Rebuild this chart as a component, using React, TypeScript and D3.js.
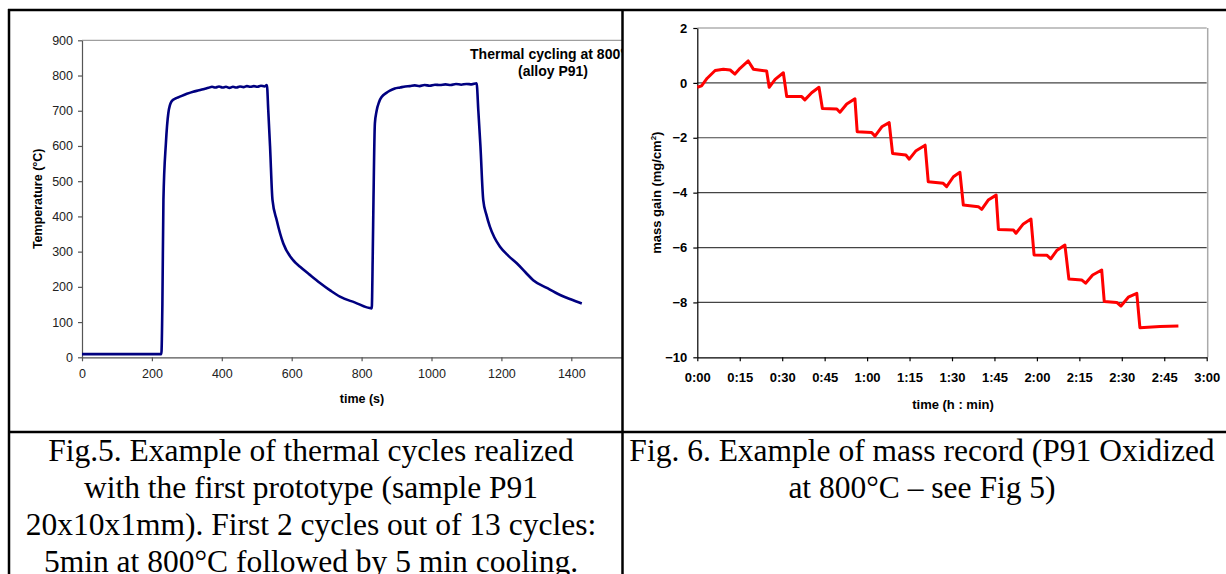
import { useEffect, useRef } from 'react';
import * as d3 from 'd3';

// Fig.5: temperature (°C) vs time (s), first 2 cycles
const cycleTime = [
  0, 100, 227, 230, 233, 240, 247, 256, 268, 280, 300, 318, 335, 350, 362, 372, 382, 392, 402, 412,
  422, 432, 442, 452, 462, 472, 482, 492, 502, 512, 522, 529, 533, 538, 545, 557, 576, 604, 624, 652,
  681, 710, 738, 780, 829, 832, 834, 838, 843, 850, 858, 870, 881, 895, 910, 925, 938, 952, 966, 980,
  995, 1010, 1024, 1040, 1055, 1070, 1085, 1100, 1115, 1129, 1134, 1140, 1148, 1157, 1167, 1180, 1196,
  1220, 1244, 1270, 1291, 1330, 1368, 1400, 1430,
];
const cycleTemp = [
  9, 9, 9, 150, 447, 607, 693, 726, 735, 740, 748, 754, 758, 762, 765, 768, 766, 769, 766, 768,
  765, 768, 766, 769, 767, 770, 768, 770, 768, 771, 769, 773, 700, 600, 447, 390, 323, 276, 257, 234,
  211, 190, 172, 156, 139, 300, 447, 664, 700, 725, 740, 750, 757, 763, 766, 769, 770, 772, 770, 773,
  771, 774, 773, 775, 773, 776, 774, 776, 775, 778, 700, 600, 447, 405, 371, 340, 314,
  288, 267, 240, 219, 197, 177, 164, 153,
];
const tempTicks = [0, 100, 200, 300, 400, 500, 600, 700, 800, 900];
const timeTicks = [0, 200, 400, 600, 800, 1000, 1200, 1400, 1600];

// Fig.6: mass gain (mg/cm²) vs time (minutes)
const massTime = [
  0, 1.5, 3.5, 6.3, 9.2, 11.6, 13.3, 15.1, 18, 19.8, 24.5, 25.4, 27.5, 30.4, 31.6, 36.9, 38, 40.4,
  43, 44.2, 49.3, 50.4, 52.8, 55.7, 56.5, 61.6, 62.8, 65.2, 67.8, 69, 73.7, 74.9, 77.3, 80.5, 81.6,
  86.9, 88.1, 90.5, 92.8, 94, 99.3, 100.5, 102.8, 105.6, 106.4, 111.7, 112.6, 115.2, 117.9, 119,
  123.5, 124.9, 127, 129.9, 131.3, 135.8, 137.2, 139.7, 142.9, 143.8, 148.2, 149.7, 152.3, 155.3,
  156.4, 163.5, 170,
];
const massGain = [
  -0.16, -0.11, 0.17, 0.45, 0.5, 0.47, 0.32, 0.53, 0.8, 0.5, 0.43, -0.16, 0.13, 0.37, -0.5, -0.5,
  -0.62, -0.36, -0.16, -0.93, -0.95, -1.07, -0.77, -0.58, -1.78, -1.81, -1.94, -1.6, -1.45, -2.57,
  -2.63, -2.78, -2.47, -2.27, -3.6, -3.66, -3.78, -3.42, -3.26, -4.45, -4.51, -4.61, -4.27, -4.09,
  -5.34, -5.36, -5.48, -5.14, -4.96, -6.27, -6.28, -6.41, -6.11, -5.91, -7.15, -7.18, -7.3, -7.0,
  -6.82, -7.97, -8.0, -8.13, -7.81, -7.67, -8.92, -8.88, -8.86,
];
const massTicks = [-10, -8, -6, -4, -2, 0, 2];
const minuteTicks = [0, 15, 30, 45, 60, 75, 90, 105, 120, 135, 150, 165, 180];

const captionLeft = [
  'Fig.5. Example of thermal cycles realized',
  'with the first prototype (sample P91',
  '20x10x1mm). First 2 cycles out of 13 cycles:',
  '5min at 800°C followed by 5 min cooling.',
];
const captionRight = ['Fig. 6. Example of mass record (P91 Oxidized', 'at 800°C – see Fig 5)'];

const W = 1226;
const H = 574;
const SANS = 'Liberation Sans, Arial, sans-serif';
const SERIF = 'Liberation Serif, Times New Roman, serif';

export default function App() {
  const svgRef = useRef<SVGSVGElement>(null);

  useEffect(() => {
    const svg = d3.select(svgRef.current);
    svg.selectAll('*').remove();

    // ---------- left chart (clipped to its cell) ----------
    svg.append('defs').append('clipPath').attr('id', 'cellL')
      .append('rect').attr('x', 9).attr('y', 10).attr('width', 613).attr('height', 422);

    const L = svg.append('g').attr('clip-path', 'url(#cellL)');
    const xL = d3.scaleLinear().domain([0, 1600]).range([82, 641.2]);
    const yL = d3.scaleLinear().domain([0, 900]).range([357.3, 40.3]);

    L.append('line').attr('x1', xL(0)).attr('x2', 640).attr('y1', yL(900)).attr('y2', yL(900))
      .attr('stroke', '#888').attr('stroke-width', 1);

    const axL = L.append('g').attr('transform', `translate(0,${yL(0)})`)
      .call(d3.axisBottom(xL).tickValues(timeTicks).tickFormat(d3.format('d'))
        .tickSize(4).tickSizeOuter(0).tickPadding(8));
    const ayL = L.append('g').attr('transform', `translate(${xL(0)},0)`)
      .call(d3.axisLeft(yL).tickValues(tempTicks).tickSize(4).tickSizeOuter(0).tickPadding(5));
    [axL, ayL].forEach(a => {
      a.selectAll('path,line').attr('stroke', '#555').attr('stroke-width', 1.2);
      a.selectAll('text').attr('font-family', SANS).attr('font-size', 12.5).attr('fill', '#222');
    });

    const lineL = d3.line<number>().x((_, i) => xL(cycleTime[i])).y(d => yL(d))
      .curve(d3.curveMonotoneX);
    L.append('path').datum(cycleTemp).attr('d', lineL).attr('fill', 'none')
      .attr('stroke', '#000080').attr('stroke-width', 2.6).attr('stroke-linejoin', 'round');

    L.append('text').attr('x', 553).attr('y', 59).attr('text-anchor', 'middle')
      .attr('font-family', SANS).attr('font-size', 14).attr('font-weight', 'bold')
      .text('Thermal cycling at 800°C');
    L.append('text').attr('x', 553).attr('y', 76).attr('text-anchor', 'middle')
      .attr('font-family', SANS).attr('font-size', 14).attr('font-weight', 'bold')
      .text('(alloy P91)');
    L.append('text').attr('x', 362).attr('y', 402.5).attr('text-anchor', 'middle')
      .attr('font-family', SANS).attr('font-size', 12.5).attr('font-weight', 'bold')
      .text('time (s)');
    L.append('text').attr('transform', `translate(42,${(yL(0) + yL(900)) / 2}) rotate(-90)`)
      .attr('text-anchor', 'middle')
      .attr('font-family', SANS).attr('font-size', 12.5).attr('font-weight', 'bold')
      .text('Temperature (°C)');

    // ---------- right chart ----------
    const R = svg.append('g');
    const xR = d3.scaleLinear().domain([0, 180]).range([697.3, 1206.7]);
    const yR = d3.scaleLinear().domain([-10, 2]).range([357.3, 28]);

    R.selectAll('line.grid').data(massTicks.filter(v => v > -10)).enter().append('line')
      .attr('class', 'grid')
      .attr('x1', xR(0)).attr('x2', xR(180)).attr('y1', d => yR(d)).attr('y2', d => yR(d))
      .attr('stroke', d => (d === 2 ? '#888' : '#444')).attr('stroke-width', 1.2);
    R.append('line').attr('x1', xR(180) + 1).attr('x2', xR(180) + 1).attr('y1', yR(2)).attr('y2', yR(-10))
      .attr('stroke', '#aaa').attr('stroke-width', 1.5);

    const fmt = (m: number) => `${Math.floor(m / 60)}:${String(m % 60).padStart(2, '0')}`;
    const axR = R.append('g').attr('transform', `translate(0,${yR(-10)})`)
      .call(d3.axisBottom(xR).tickValues(minuteTicks).tickFormat(d => fmt(+d))
        .tickSize(4).tickSizeOuter(0).tickPadding(11));
    const ayR = R.append('g').attr('transform', `translate(${xR(0)},0)`)
      .call(d3.axisLeft(yR).tickValues(massTicks).tickSize(4).tickSizeOuter(0).tickPadding(6));
    [axR, ayR].forEach(a => {
      a.selectAll('path,line').attr('stroke', '#000').attr('stroke-width', 1.2);
      a.selectAll('text').attr('font-family', SANS).attr('font-size', 13)
        .attr('font-weight', 'bold').attr('fill', '#000');
    });

    const lineR = d3.line<number>().x((_, i) => xR(massTime[i])).y(d => yR(d));
    R.append('path').datum(massGain).attr('d', lineR).attr('fill', 'none')
      .attr('stroke', '#ff0000').attr('stroke-width', 3).attr('stroke-linejoin', 'round');

    R.append('text').attr('x', 953).attr('y', 408.5).attr('text-anchor', 'middle')
      .attr('font-family', SANS).attr('font-size', 13).attr('font-weight', 'bold')
      .text('time (h : min)');
    const yl = R.append('text').attr('transform', `translate(661,${(yR(2) + yR(-10)) / 2}) rotate(-90)`)
      .attr('text-anchor', 'middle')
      .attr('font-family', SANS).attr('font-size', 13).attr('font-weight', 'bold');
    yl.append('tspan').text('mass gain (mg/cm');
    yl.append('tspan').attr('font-size', 8).attr('dy', -5).text('2');
    yl.append('tspan').attr('dy', 5).text(')');

    // ---------- captions ----------
    const capL = svg.append('g').attr('font-family', SERIF).attr('font-size', 31.5).attr('text-anchor', 'middle');
    capL.selectAll('text').data(captionLeft).enter().append('text')
      .attr('x', 311).attr('y', (_, i) => 461 + i * 37).text(d => d);
    const capR = svg.append('g').attr('font-family', SERIF).attr('font-size', 31.5).attr('text-anchor', 'middle');
    capR.selectAll('text').data(captionRight).enter().append('text')
      .attr('x', 922).attr('y', (_, i) => 461 + i * 37).text(d => d);

    // ---------- table borders ----------
    const b = svg.append('g').attr('stroke', '#000').attr('stroke-width', 2.5);
    b.append('line').attr('x1', 8).attr('x2', W).attr('y1', 10).attr('y2', 10);
    b.append('line').attr('x1', 8).attr('x2', W).attr('y1', 432).attr('y2', 432);
    b.append('line').attr('x1', 9).attr('x2', 9).attr('y1', 9).attr('y2', H);
    b.append('line').attr('x1', 622.5).attr('x2', 622.5).attr('y1', 9).attr('y2', H);
  }, []);

  return (
    <svg
      ref={svgRef}
      width={W}
      height={H}
      style={{ position: 'absolute', left: 0, top: 0, background: '#fff' }}
    />
  );
}
